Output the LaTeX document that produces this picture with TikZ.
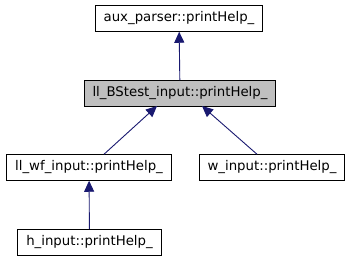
\documentclass[tikz,border=0pt]{standalone}
\usepackage{fontspec}
\setmainfont{DejaVu Sans}
\usetikzlibrary{arrows.meta}
\definecolor{edgeblue}{HTML}{191970}
\definecolor{curgrey}{HTML}{BFBFBF}
\tikzset{
    fn/.style={draw=black, fill=white, line width=1pt, minimum height=25.5pt,
        inner xsep=8.5pt, font=\fontsize{13.3}{15}\selectfont},
    cur/.style={fn, fill=curgrey},
    inherit/.style={draw=edgeblue, line width=0.9pt,
        -{Triangle[length=11pt, width=10pt, fill=edgeblue]}},
}
\begin{document}
\begin{tikzpicture}[x=1pt, y=-1pt]
    \useasboundingbox (0,0) rectangle (351,261);
    \node[fn] (aux) at (179,18.5) {aux\_parser::printHelp\_};
    \node[cur] (bs) at (180,93.5) {ll\_BStest\_input::printHelp\_};
    \node[fn] (wf) at (89,167.5) {ll\_wf\_input::printHelp\_};
    \node[fn] (w) at (272,167.5) {w\_input::printHelp\_};
    \node[fn] (h) at (89.5,242.5) {h\_input::printHelp\_};
    % derived classes point up to the base
    \draw[inherit] (bs) -- (aux);
    \draw[inherit] (wf.north -| 104,0) -- (157,106);
    \draw[inherit] (w.north -| 257,0) -- (202,106);
    \draw[inherit] (h) -- (wf);
\end{tikzpicture}
\end{document}
